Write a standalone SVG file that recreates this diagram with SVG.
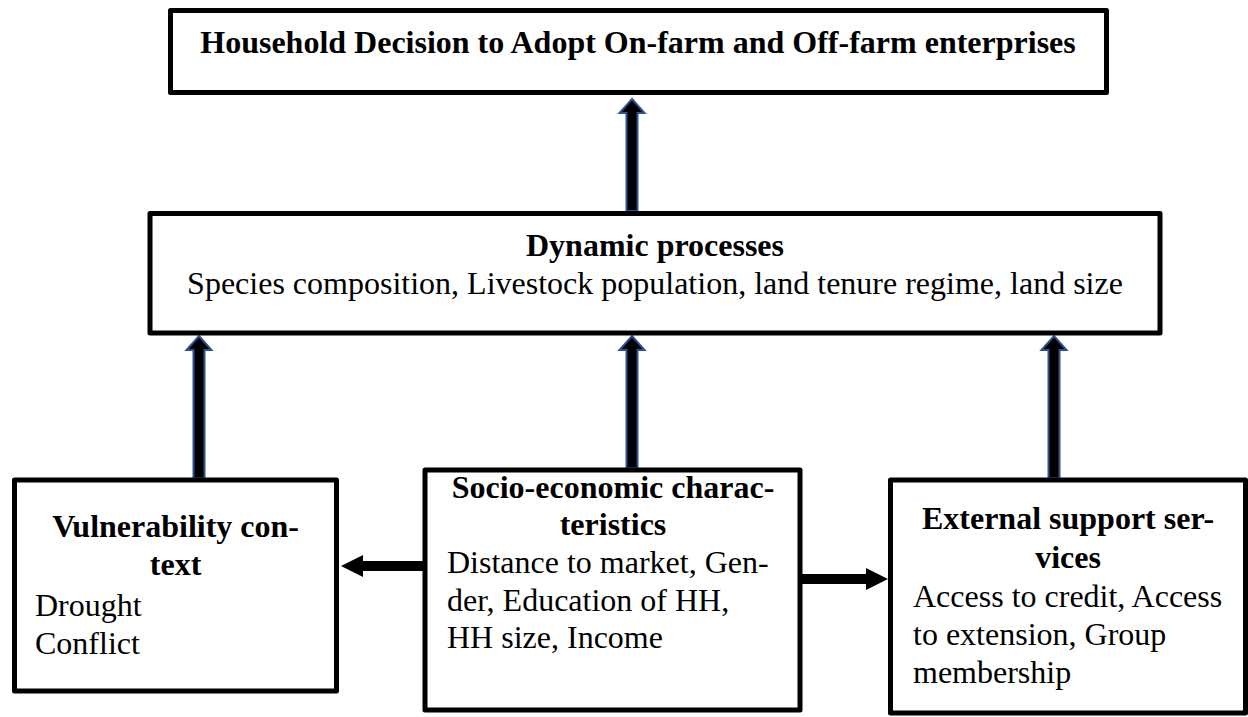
<svg xmlns="http://www.w3.org/2000/svg" width="1248" height="717" viewBox="0 0 1248 717">
<style>
.box{fill:#fff;stroke:#000;stroke-width:5;stroke-linejoin:round}
text{font-family:"Liberation Serif","Times New Roman",serif;font-size:32px;fill:#000}
.b{font-weight:bold}
.c{text-anchor:middle}
.up{fill:#000;stroke:#2F528F;stroke-width:2}
.side{fill:#000}
</style>
<rect width="1248" height="717" fill="#fff"/>
<g id="connectors">
<polygon class="up" points="632,99 644.5,113 637.5,113 637.5,211 626.5,211 626.5,113 619.5,113"/>
<polygon class="up" points="199,336 211.5,350 204.5,350 204.5,478 193.5,478 193.5,350 186.5,350"/>
<polygon class="up" points="632,336 644.5,350 637.5,350 637.5,468 626.5,468 626.5,350 619.5,350"/>
<polygon class="up" points="1054,336 1066.5,350 1059.5,350 1059.5,478 1048.5,478 1048.5,350 1041.5,350"/>
<polygon class="side" points="341,566 363,555 363,561 423,561 423,571 363,571 363,577"/>
<polygon class="side" points="888,579 866,568 866,574 802,574 802,584 866,584 866,590"/>
</g>
<g id="household">
<rect class="box" x="170.5" y="10.5" width="936" height="82"/>
<text class="b c" x="638" y="53">Household Decision to Adopt On-farm and Off-farm enterprises</text>
</g>
<g id="dynamic">
<rect class="box" x="150" y="213.5" width="1010" height="119.5"/>
<text class="b c" x="655" y="256">Dynamic processes</text>
<text class="c" x="655" y="294">Species composition, Livestock population, land tenure regime, land size</text>
</g>
<g id="vulnerability">
<rect class="box" x="14.5" y="480" width="322" height="211"/>
<text class="b c" x="175.6" y="537">Vulnerability con-</text>
<text class="b c" x="175.6" y="575">text</text>
<text x="35" y="616">Drought</text>
<text x="35" y="654">Conflict</text>
</g>
<g id="socio">
<rect class="box" x="425" y="470" width="375" height="240"/>
<text class="b c" x="613" y="498">Socio-economic charac-</text>
<text class="b c" x="613" y="535">teristics</text>
<text x="447" y="573">Distance to market, Gen-</text>
<text x="447" y="611">der, Education of HH,</text>
<text x="447" y="648">HH size, Income</text>
</g>
<g id="external">
<rect class="box" x="890.5" y="480" width="355" height="233"/>
<text class="b c" x="1068" y="529">External support ser-</text>
<text class="b c" x="1068" y="568">vices</text>
<text x="913" y="607">Access to credit, Access</text>
<text x="913" y="645">to extension, Group</text>
<text x="913" y="683">membership</text>
</g>
</svg>
